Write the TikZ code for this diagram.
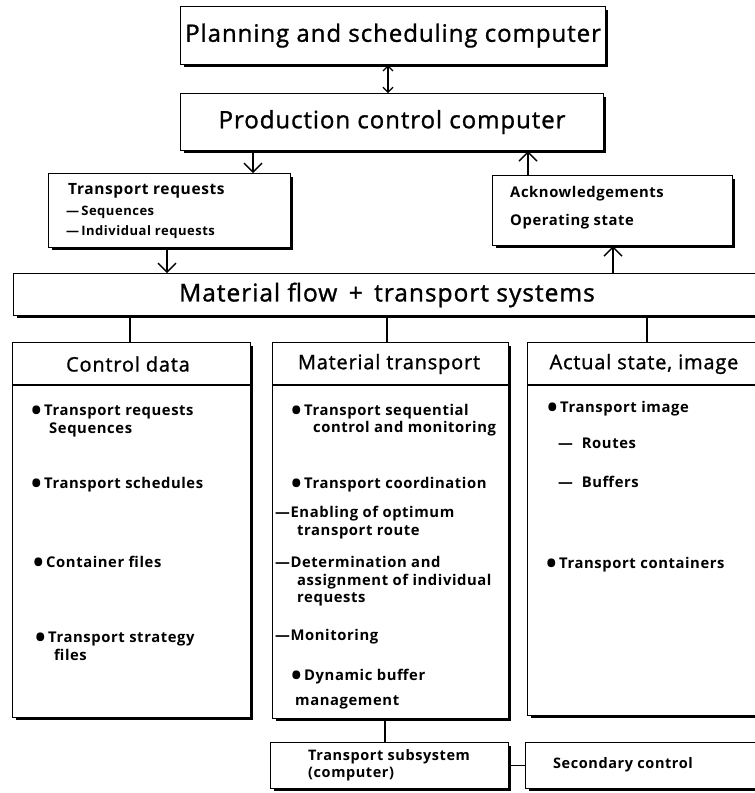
\documentclass[tikz,border=0pt]{standalone}
\usepackage{fontspec}
\setmainfont{Open Sans}
\newfontfamily\medfam[FakeBold=1.2,LetterSpace=4]{Open Sans}
\newfontfamily\boldfam[LetterSpace=4]{Open Sans}
\usetikzlibrary{calc,arrows.meta}

\newcommand\titlefont{\medfam\fontsize{24}{28}\selectfont}
\newcommand\headfont{\medfam\fontsize{20}{23}\selectfont}
\newcommand\itemfont{\boldfam\bfseries\fontsize{14.8}{17}\selectfont}
\newcommand\smallfont{\boldfam\bfseries\fontsize{13}{15}\selectfont}
\newcommand\bul{\raisebox{-5.5pt}{\fontsize{28}{28}\selectfont •}\,}

\tikzset{
  box/.style={draw, line width=1.1pt, inner sep=0pt, anchor=north west},
  edge/.style={line width=1.2pt},
  flow/.style={line width=1.2pt, -{Straight Barb[length=9pt,width=18pt,line width=1.4pt]}},
  twoway/.style={line width=1.2pt, {Straight Barb[length=5pt,width=10pt,line width=1.2pt]}-{Straight Barb[length=5pt,width=10pt,line width=1.2pt]}},
  txt/.style={anchor=base west, inner sep=0pt, font=\itemfont},
  sub/.style={anchor=base west, inner sep=0pt, font=\smallfont},
}
% heavier lower and right edge of a box
\newcommand\heavyedge[1]{%
  \draw[line width=2pt] ($(#1.north east)+(1,4)$) -- ($(#1.south east)+(1,1)$) -- ($(#1.south west)+(4,1)$);}

\begin{document}
\begin{tikzpicture}[x=1pt,y=-1pt]
\useasboundingbox (0,0) rectangle (755,793);
\clip (0,0) rectangle (755,793);

% --- upper chain of computers
\node[box, minimum width=425pt, minimum height=58pt, font=\titlefont] (plan) at (180,6) {Planning and scheduling computer};
\node[box, minimum width=423pt, minimum height=57pt, font=\titlefont] (prod) at (180,93) {Production control computer};
\heavyedge{plan}
\heavyedge{prod}
\coordinate (xp) at (388,0);
\draw[twoway] (xp |- plan.south) -- (xp |- prod.north);

% --- requests and feedback
\node[box, minimum width=242pt, minimum height=74pt] (treq) at (48,173) {};
\node[box, minimum width=240pt, minimum height=70pt] (ack) at (492,175) {};
\heavyedge{treq}
\heavyedge{ack}
\node[anchor=base west, inner sep=0pt, font=\boldfam\bfseries\fontsize{15.5}{17}\selectfont] (treq1) at (68,194) {Transport requests};
\node[sub] (treq2) at (66,215) {—\,Sequences};
\node[sub] (treq3) at (66,235) {—\,Individual requests};
\node[txt] (ack1) at (510,197) {Acknowledgements};
\node[txt] (ack2) at (510,225) {Operating state};

% --- material flow bar
\node[box, minimum width=770pt, minimum height=42pt] (mf) at (13,273) {};
\heavyedge{mf}
\node[inner sep=0pt, font=\medfam\fontsize{24.5}{28}\selectfont] (mft) at (387,295) {Material flow \,+\, transport systems};

\coordinate (xa) at (253,0);
\coordinate (xb) at (528,0);
\coordinate (xc) at (167,0);
\coordinate (xd) at (613,0);
\draw[flow] (xa |- prod.south) -- (xa |- treq.north);
\draw[flow] (xb |- ack.north) -- (xb |- prod.south);
\draw[flow] (xc |- treq.south) -- (xc |- mf.north);
\draw[flow] (xd |- mf.north) -- (xd |- ack.south);

% --- three columns
\node[box, minimum width=238pt, minimum height=375pt] (cd) at (12,342) {};
\node[box, minimum width=236pt, minimum height=376pt] (mt) at (272,342) {};
\node[box, minimum width=250pt, minimum height=373pt] (as) at (527,342) {};
\heavyedge{cd}
\heavyedge{mt}
\heavyedge{as}
\foreach \c in {cd,mt,as}{
  \draw[line width=1.1pt] ($(\c.north west)+(0,43)$) -- ($(\c.north east)+(0,43)$);
}
\coordinate (x1) at (130,0);
\coordinate (x2) at (387,0);
\coordinate (x3) at (647,0);
\draw[edge] (x1 |- mf.south) -- (x1 |- cd.north);
\draw[edge] (x2 |- mf.south) -- (x2 |- mt.north);
\draw[edge] (x3 |- mf.south) -- (x3 |- as.north);

\node[font=\headfont, inner sep=0pt] (cdh) at (128,364) {Control data};
\node[font=\headfont, inner sep=0pt] (mth) at (389,364) {Material transport};
\node[font=\headfont, inner sep=0pt] (ash) at (644,364) {Actual state, image};

% control data items
\node[txt] (cd1) at (31,415) {\bul Transport requests};
\node[txt] (cd2) at (49,433) {Sequences};
\node[txt] (cd3) at (31,488) {\bul Transport schedules};
\node[txt] (cd4) at (33,567) {\bul Container files};
\node[txt] (cd5) at (35,642) {\bul Transport strategy};
\node[txt] (cd6) at (54,660) {files};

% material transport items
\node[txt] (mt1) at (291,415) {\bul Transport sequential};
\node[txt] (mt2) at (313,432) {control and monitoring};
\node[txt] (mt3) at (291,488) {\bul Transport coordination};
\node[txt] (mt4) at (275,517) {—Enabling of optimum};
\node[txt] (mt5) at (297,535) {transport route};
\node[txt] (mt6) at (275,567) {—Determination and};
\node[txt] (mt7) at (297,585) {assignment of individual};
\node[txt] (mt8) at (297,602) {requests};
\node[txt] (mt9) at (275,640) {—Monitoring};
\node[txt] (mt10) at (291,680) {\bul Dynamic buffer};
\node[txt] (mt11) at (295,705) {management};

% actual state items
\node[txt] (as1) at (547,412) {\bul Transport image};
\node[txt] (as2) at (558,448) {—\ \ Routes};
\node[txt] (as3) at (558,487) {—\ \ Buffers};
\node[txt] (as4) at (546,568) {\bul Transport containers};

% --- subsystem row
\node[box, minimum width=238pt, minimum height=46pt] (tss) at (270,742) {};
\node[box, minimum width=250pt, minimum height=46pt] (sec) at (525,742) {};
\heavyedge{tss}
\heavyedge{sec}
\node[sub, font=\boldfam\bfseries\fontsize{14.5}{15}\selectfont] (tss1) at (308,760) {Transport subsystem};
\node[sub, font=\boldfam\bfseries\fontsize{14.5}{15}\selectfont] (tss2) at (308,777) {(computer)};
\node[font=\boldfam\bfseries\fontsize{14.5}{15}\selectfont, inner sep=0pt] (sect) at (623,765) {Secondary control};
\coordinate (x4) at (385,0);
\draw[edge] (x4 |- mt.south) -- (x4 |- tss.north);
\draw[edge] (tss.east) -- (sec.west);
\end{tikzpicture}
\end{document}
